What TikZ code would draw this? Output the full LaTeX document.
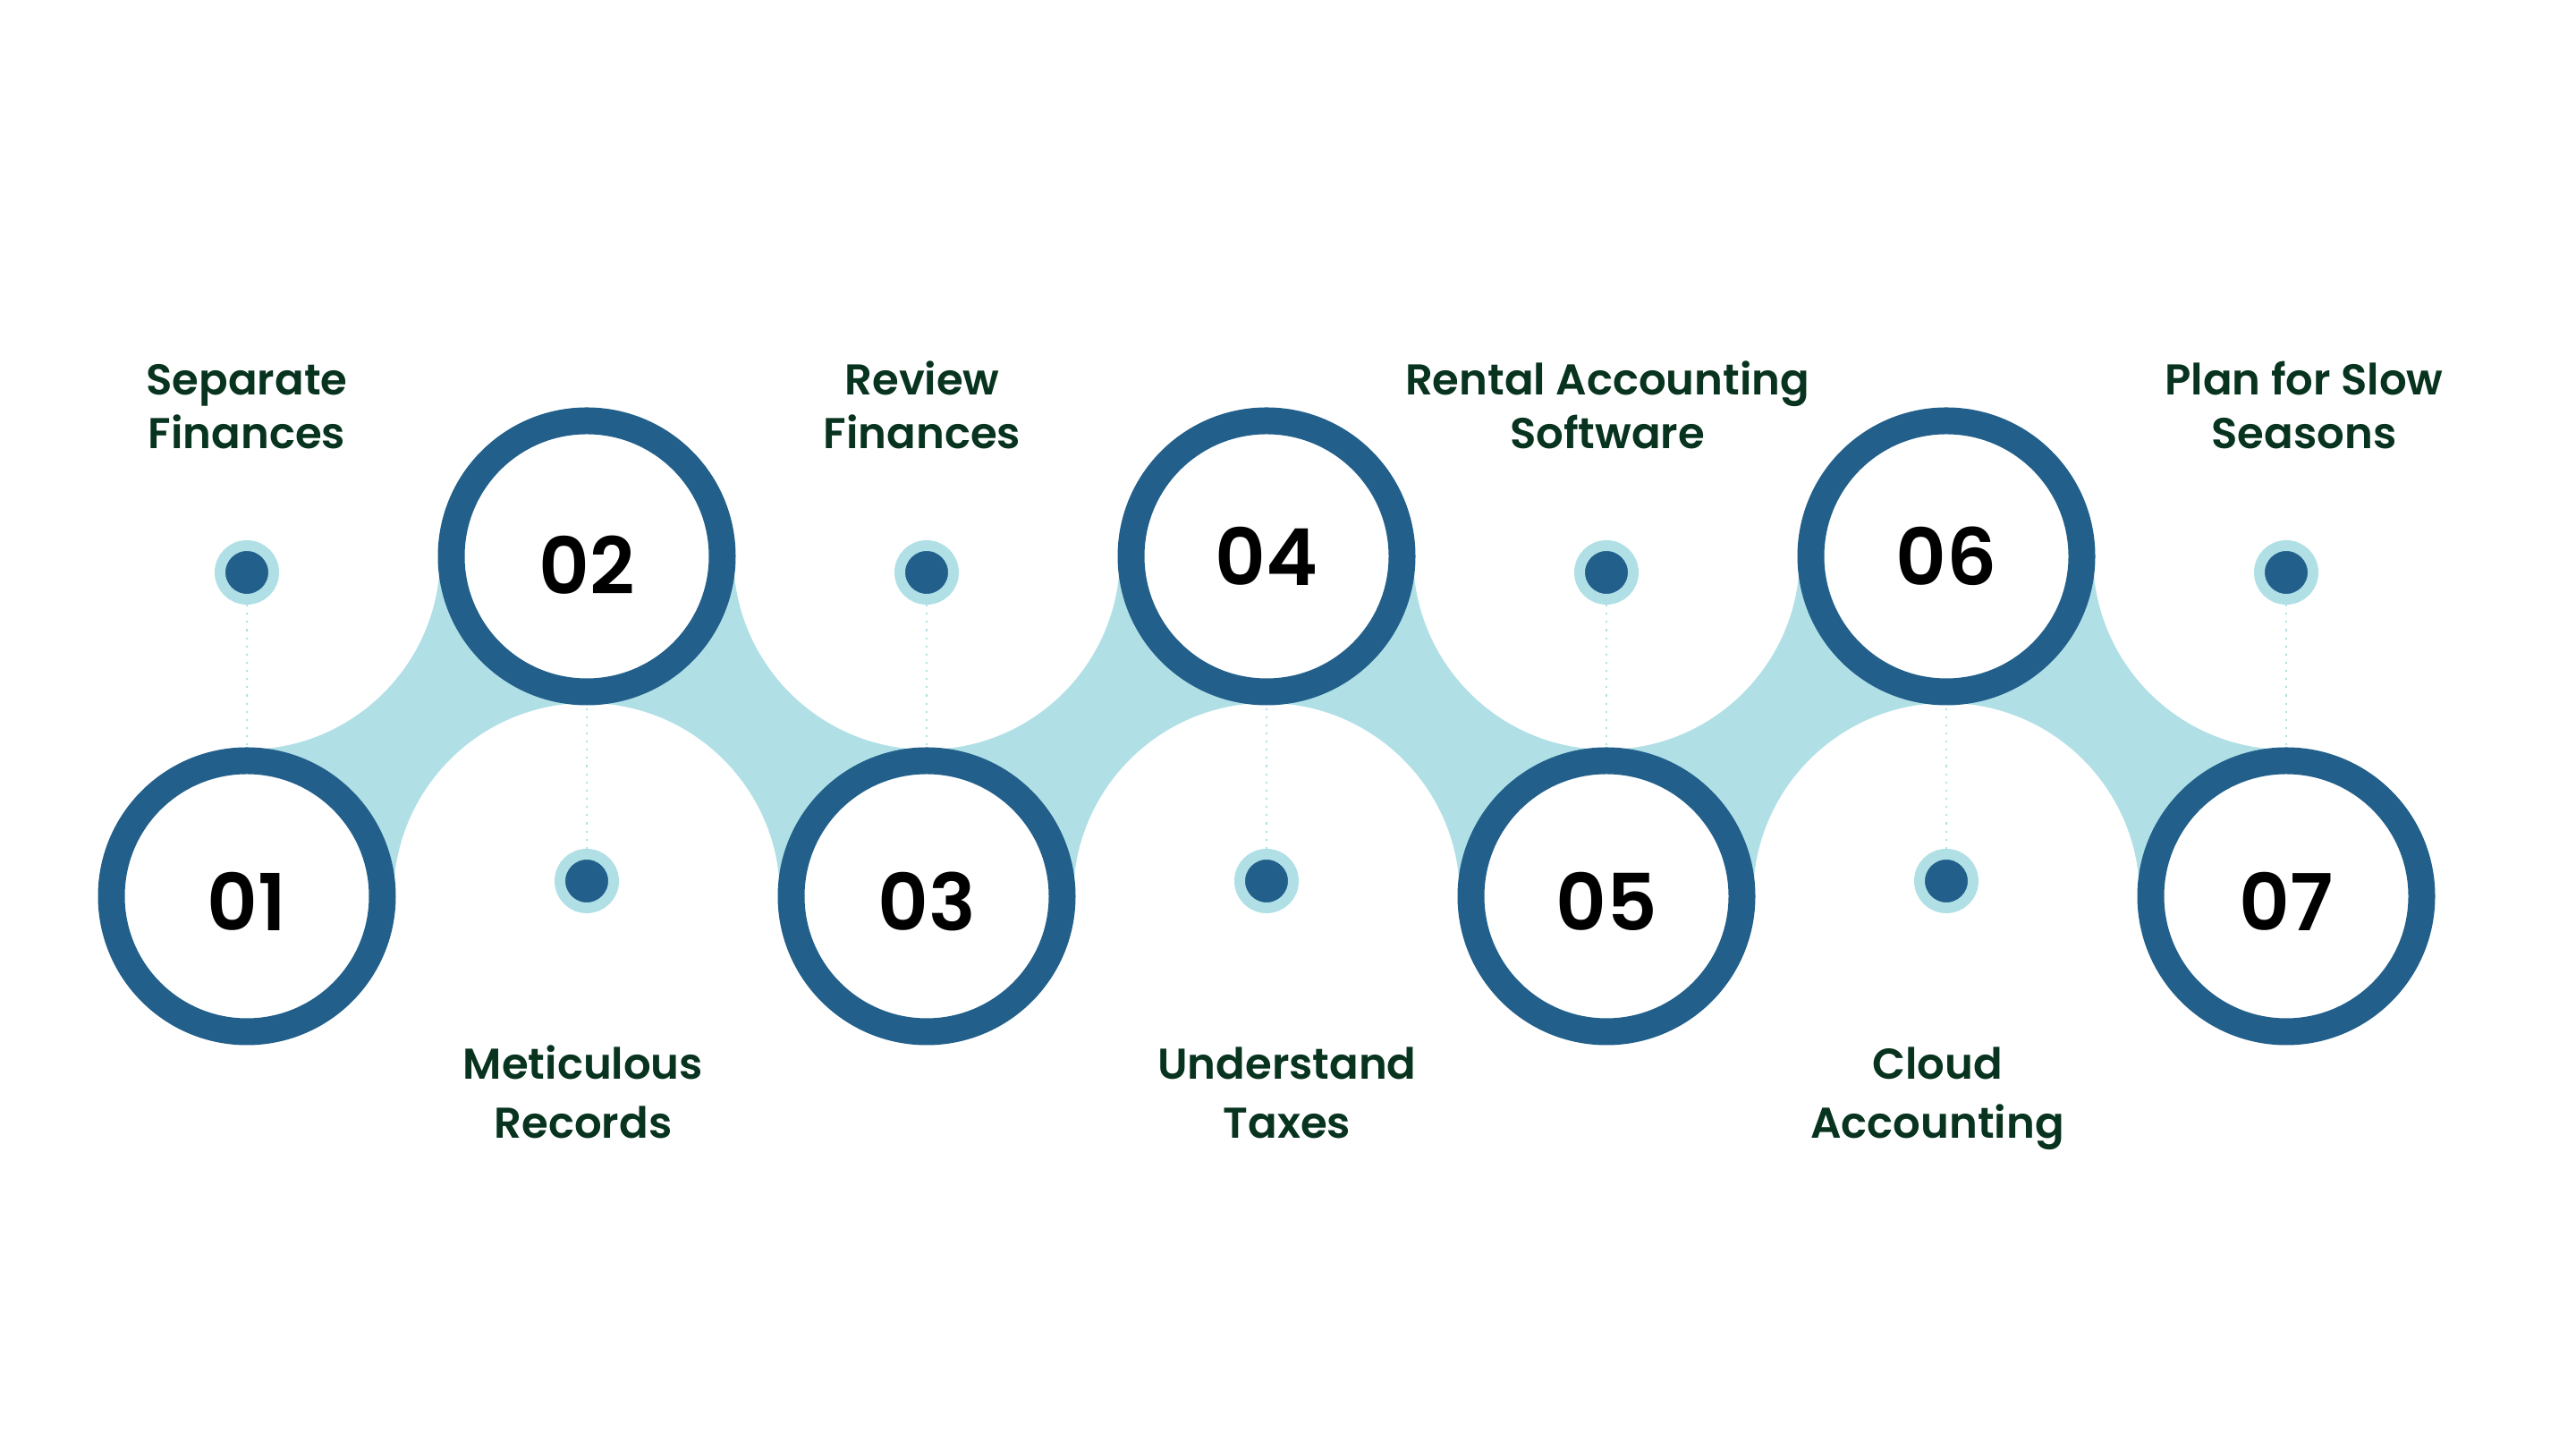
\documentclass[tikz,border=0pt]{standalone}
\usepackage{fontspec}
\setmainfont{Poppins}
\newfontfamily\semifont{Poppins SemiBold}
\usepackage{xcolor}
\definecolor{ringblue}{HTML}{22608B}
\definecolor{paleteal}{HTML}{B0E0E6}
\definecolor{darkgreen}{HTML}{07331F}
\tikzstyle{ring} = [circle, draw=ringblue, fill=white, line width=0.3cm, minimum size=3.03cm, font=\fontsize{25}{30}\selectfont\semifont]
\tikzstyle{dot} = [circle, fill=ringblue, draw=paleteal, line width=0.12cm, minimum size=0.6cm, inner sep=0pt]
\tikzstyle{link} = [paleteal, line width=0.6pt, dotted]
\tikzstyle{toptext} = [align=center, anchor=base, text=darkgreen, font=\fontsize{13.7}{17}\selectfont\semifont]
\tikzstyle{bottext} = [align=center, anchor=base, text=darkgreen, font=\fontsize{13.7}{19}\selectfont\semifont]
\newcommand{\numdown}[2]{\raisebox{-#1}[\height][0pt]{#2}}

\begin{document}
\begin{tikzpicture}[node distance=3.8cm]
        \useasboundingbox (0,0) rectangle (28.8,16.2);
        % teal band with white bites
        \fill[paleteal] (2.76,6.18) rectangle (25.56,9.98);
        \fill[white] (2.76,9.98) circle (2.16);
        \fill[white] (10.36,9.98) circle (2.16);
        \fill[white] (17.96,9.98) circle (2.16);
        \fill[white] (25.56,9.98) circle (2.16);
        \fill[white] (6.56,6.18) circle (2.16);
        \fill[white] (14.16,6.18) circle (2.16);
        \fill[white] (21.76,6.18) circle (2.16);

        \node (n1) [ring] at (2.76,6.18) {\numdown{0.06cm}{01}};
        \node (n2) [ring, right of=n1, yshift=3.8cm] {\numdown{0.1cm}{02}};
        \node (n3) [ring, right of=n2, yshift=-3.8cm] {\numdown{0.06cm}{03}};
        \node (n4) [ring, right of=n3, yshift=3.8cm] {04};
        \node (n5) [ring, right of=n4, yshift=-3.8cm] {\numdown{0.06cm}{05}};
        \node (n6) [ring, right of=n5, yshift=3.8cm] {06};
        \node (n7) [ring, right of=n6, yshift=-3.8cm] {\numdown{0.06cm}{07}};

        \node (d1) [dot, above of=n1, node distance=3.62cm] {};
        \node (d2) [dot, below of=n2, node distance=3.63cm] {};
        \node (d3) [dot, above of=n3, node distance=3.62cm] {};
        \node (d4) [dot, below of=n4, node distance=3.63cm] {};
        \node (d5) [dot, above of=n5, node distance=3.62cm] {};
        \node (d6) [dot, below of=n6, node distance=3.63cm] {};
        \node (d7) [dot, above of=n7, node distance=3.62cm] {};
        \draw [link] (d1) -- (n1);
        \draw [link] (d2) -- (n2);
        \draw [link] (d3) -- (n3);
        \draw [link] (d4) -- (n4);
        \draw [link] (d5) -- (n5);
        \draw [link] (d6) -- (n6);
        \draw [link] (d7) -- (n7);

        % base anchor sits on the last line
        \node (t1) [toptext] at (2.76,11.185) {Separate\\Finances};
        \node (t3) [toptext] at (10.31,11.185) {Review\\Finances};
        \node (t5) [toptext] at (17.97,11.185) {Rental Accounting\\Software};
        \node (t7) [toptext] at (25.76,11.185) {Plan for Slow\\Seasons};
        \node (t2) [bottext] at (6.52,3.47) {Meticulous\\Records};
        \node (t4) [bottext] at (14.39,3.47) {Understand\\Taxes};
        \node (t6) [bottext] at (21.66,3.47) {Cloud\\Accounting};
\end{tikzpicture}
\end{document}
